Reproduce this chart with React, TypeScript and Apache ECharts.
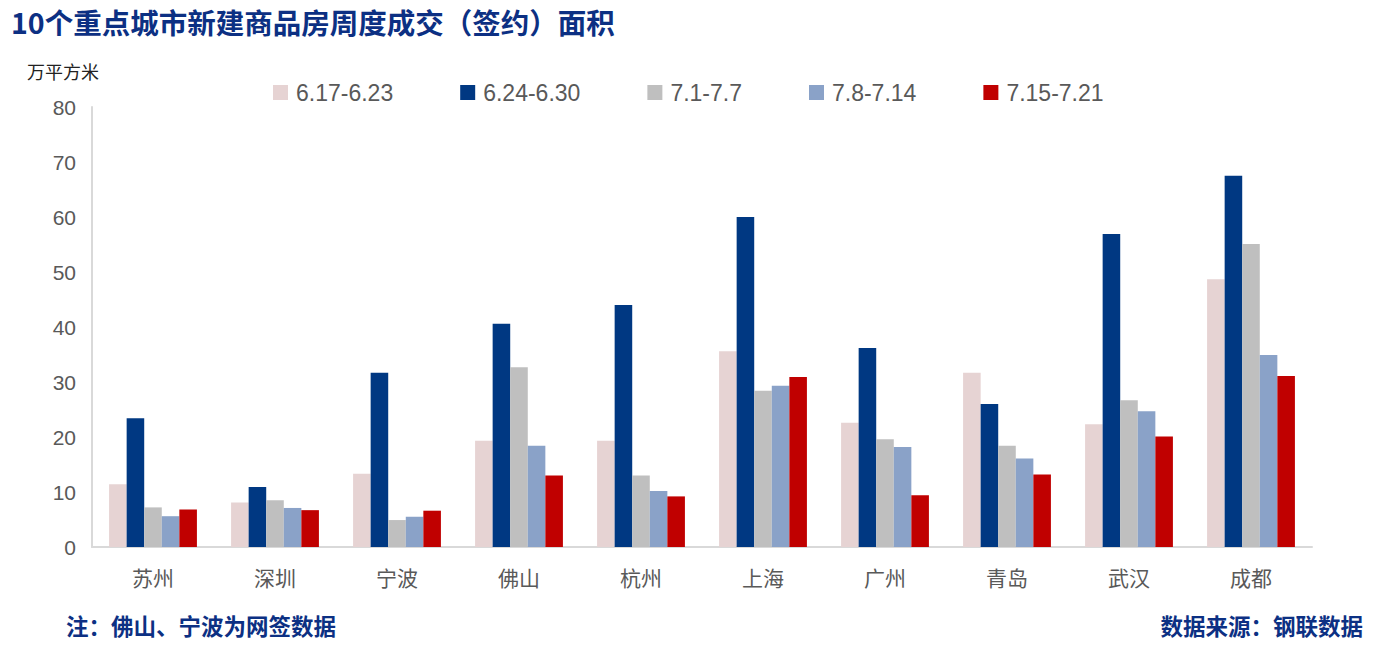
import React, { useEffect, useRef } from "react";
import * as echarts from "echarts";

const categories = ["苏州", "深圳", "宁波", "佛山", "杭州", "上海", "广州", "青岛", "武汉", "成都"];
const seriesNames = ["6.17-6.23", "6.24-6.30", "7.1-7.7", "7.8-7.14", "7.15-7.21"];
const s1 = [11.4, 8.1, 13.3, 19.3, 19.3, 35.6, 22.6, 31.7, 22.3, 48.7];
const s2 = [23.4, 10.9, 31.7, 40.6, 44.0, 60.0, 36.2, 26.0, 56.9, 67.5];
const s3 = [7.2, 8.5, 4.9, 32.7, 13.0, 28.4, 19.6, 18.4, 26.7, 55.1];
const s4 = [5.6, 7.1, 5.5, 18.4, 10.2, 29.3, 18.2, 16.1, 24.7, 34.9];
const s5 = [6.8, 6.7, 6.6, 13.0, 9.2, 30.9, 9.4, 13.2, 20.1, 31.1];
const colors = ["#e6d3d3", "#003882", "#bfbfbf", "#8aa2c8", "#c00000"];
const yTicks = { min: 0, max: 80, interval: 10 };

export default function App() {
  const ref = useRef<HTMLDivElement>(null);
  useEffect(() => {
    const chart = echarts.init(ref.current!, null, { renderer: "svg" });
    const all = [s1, s2, s3, s4, s5];
    chart.setOption({
      animation: false,
      backgroundColor: "#ffffff",
      title: {
        text: "10个重点城市新建商品房周度成交（签约）面积",
        left: 6,
        top: 2,
        textStyle: { fontFamily: "Noto Sans CJK SC", fontSize: 28.5, fontWeight: "bold", color: "#0c3083" },
      },
      graphic: [
        { type: "text", left: 27, top: 62, style: { text: "万平方米", font: "18px 'Noto Sans CJK SC'", fill: "#222" } },
        { type: "text", left: 66, top: 614, style: { text: "注：佛山、宁波为网签数据", font: "bold 22.5px 'Noto Sans CJK SC'", fill: "#0c3083" } },
        { type: "text", right: 12, top: 614, style: { text: "数据来源：钢联数据", font: "bold 22.5px 'Noto Sans CJK SC'", fill: "#0c3083" } },
      ],
      legend: {
        top: 76,
        left: 268,
        itemWidth: 15,
        itemHeight: 15,
        itemGap: 67,
        icon: "rect",
        textStyle: { fontFamily: "'Liberation Sans', sans-serif", fontSize: 23, color: "#595959", padding: [0, 0, 0, 3] },
        data: seriesNames,
      },
      grid: { left: 92, right: 63, top: 107, bottom: 99, containLabel: false },
      xAxis: {
        type: "category",
        data: categories,
        axisLine: { lineStyle: { color: "#d9d9d9", width: 2 } },
        axisTick: { show: false },
        axisLabel: { fontFamily: "Noto Sans CJK SC", fontSize: 21, color: "#595959", margin: 19 },
      },
      yAxis: {
        type: "value",
        min: yTicks.min,
        max: yTicks.max,
        interval: yTicks.interval,
        axisLine: { show: true, lineStyle: { color: "#d9d9d9", width: 2 } },
        axisTick: { show: false },
        splitLine: { show: false },
        axisLabel: { fontFamily: "'Liberation Sans', sans-serif", fontSize: 21, color: "#595959", margin: 16 },
      },
      series: all.map((d, i) => ({
        name: seriesNames[i],
        type: "bar",
        data: d,
        barWidth: "14.4%",
        barGap: "0%",
        itemStyle: { color: colors[i] },
      })),
    });
    return () => chart.dispose();
  }, []);
  return <div ref={ref} style={{ width: 1375, height: 646, margin: -8 }} />;
}
